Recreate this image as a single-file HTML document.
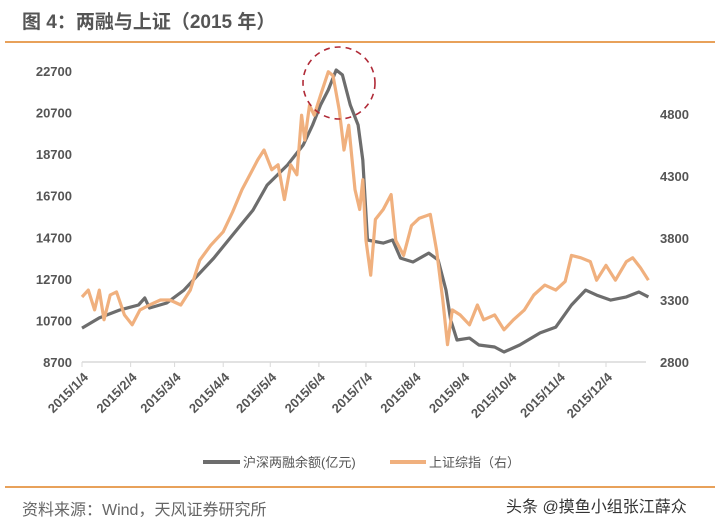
<!DOCTYPE html>
<html><head><meta charset="utf-8"><style>
body{margin:0;background:#fff;font-family:"Liberation Sans","Noto Sans CJK SC",sans-serif;}
#wrap{position:relative;width:720px;height:530px;overflow:hidden;}
</style></head><body>
<div id="wrap">
<svg id="svg" width="720" height="530" font-family="Liberation Sans, Noto Sans CJK SC, sans-serif">
<text x="22" y="28" font-size="19" font-weight="bold" fill="#555">图 4：两融与上证（2015 年）</text>
<line x1="5" y1="42" x2="715" y2="42" stroke="#e8a15a" stroke-width="2"/>
<line x1="5" y1="487" x2="715" y2="487" stroke="#e8a15a" stroke-width="2"/>
<text x="22" y="515" font-size="16" fill="#666">资料来源：Wind，天风证券研究所</text>
<text x="506" y="512" font-size="16" fill="#333">头条 @摸鱼小组张江薛众</text>
<g id="grid"></g><g id="series"></g>
<circle cx="339" cy="83" r="36" fill="none" stroke="#b02a37" stroke-width="1.6" stroke-dasharray="6,5"/>
<g>
<line x1="203" y1="462" x2="240" y2="462" stroke="#6d6d6d" stroke-width="4"/>
<text x="243" y="467" font-size="13" fill="#555">沪深两融余额(亿元)</text>
<line x1="390" y1="462" x2="426" y2="462" stroke="#f0b07e" stroke-width="4"/>
<text x="429" y="467" font-size="13" fill="#555">上证综指（右）</text>
</g>
</svg></div>
<script>
const marginDates=["01-04","01-15","01-28","02-09","02-13","02-16","02-27","03-10","03-16","03-29","04-10","04-23","05-02","05-15","05-25","05-31","06-05","06-10","06-15","06-19","06-24","06-29","07-02","07-05","07-15","07-21","07-26","08-03","08-13","08-19","08-24","08-27","08-31","09-08","09-14","09-24","09-30","10-10","10-23","11-02","11-12","11-21","11-28","12-07","12-17","12-25","12-31"];
const marginValues=[10330,10820,11200,11440,11780,11300,11540,12160,12650,13700,14810,16010,17210,18180,19140,20100,21060,21790,22750,22510,21060,20100,18420,14570,14420,14570,13700,13510,13940,13610,12160,10720,9760,9850,9520,9420,9180,9520,10100,10380,11440,12160,11920,11680,11830,12070,11830];
const indexDates=["01-04","01-08","01-12","01-15","01-18","01-22","01-26","01-31","02-05","02-10","02-16","02-23","03-01","03-08","03-14","03-20","03-27","04-04","04-10","04-16","04-21","04-26","04-30","05-05","05-09","05-13","05-17","05-21","05-24","05-26","05-29","06-01","06-05","06-10","06-13","06-17","06-20","06-23","06-27","06-30","07-02","07-04","07-07","07-10","07-15","07-20","07-23","07-28","08-02","08-07","08-14","08-18","08-22","08-25","08-28","09-02","09-08","09-13","09-17","09-24","09-30","10-06","10-13","10-19","10-26","11-02","11-08","11-12","11-18","11-24","11-28","12-04","12-10","12-17","12-21","12-26","12-31"];
const indexValues=[3324,3380,3220,3380,3140,3340,3365,3180,3100,3220,3260,3300,3300,3260,3380,3620,3740,3850,4010,4190,4310,4430,4510,4350,4390,4110,4390,4310,4790,4590,4870,4790,4950,5140,5110,4830,4510,4710,4190,4030,4270,3780,3500,3950,4030,4150,3780,3660,3900,3960,3990,3700,3300,2940,3220,3180,3100,3260,3140,3180,3060,3140,3220,3340,3420,3380,3450,3660,3640,3610,3460,3580,3460,3610,3640,3560,3460];
const leftTicks=[8700,10700,12700,14700,16700,18700,20700,22700];
const rightTicks=[2800,3300,3800,4300,4800];
const xTickLabels=["2015/1/4","2015/2/4","2015/3/4","2015/4/4","2015/5/4","2015/6/4","2015/7/4","2015/8/4","2015/9/4","2015/10/4","2015/11/4","2015/12/4"];
const NS="http://www.w3.org/2000/svg";
function doy(md){const[m,d]=md.split("-").map(Number);return (Date.UTC(2015,m-1,d)-Date.UTC(2015,0,1))/864e5;}
const X0=82,X1=606,D0=3,D1=337;
function xs(d){return X0+(d-D0)*(X1-X0)/(D1-D0);}
function yl(v){return 362-(v-8700)*(291/14000);}
function yr(v){return 362-(v-2800)*(248/2000);}
function mk(t,a,p){const e=document.createElementNS(NS,t);for(const k in a)e.setAttribute(k,a[k]);p.appendChild(e);return e;}
const g=document.getElementById("grid"),s=document.getElementById("series");
const ax=mk("line",{x1:82,y1:362,x2:646,y2:362,stroke:"#d9d9d9","stroke-width":1.5},g);


leftTicks.forEach(v=>{const t=mk("text",{x:72,y:yl(v)+5,"font-size":13,"font-weight":"bold",fill:"#555","text-anchor":"end"},g);t.textContent=v;

});
rightTicks.forEach(v=>{const t=mk("text",{x:660,y:yr(v)+5,"font-size":13,"font-weight":"bold",fill:"#555"},g);t.textContent=v;

});
xTickLabels.forEach((l,i)=>{const p=l.split("/");const x=xs(doy(p[1]+"-"+p[2]));
const tk=mk("line",{x1:x,y1:362,x2:x,y2:367,stroke:"#d9d9d9"},g);


const t=mk("text",{x:x+7,y:378,"font-size":13,"font-weight":"bold",fill:"#555","text-anchor":"end",transform:`rotate(-45 ${x+7} 378)`},g);t.textContent=l;

});
function path(dates,vals,f){return dates.map((d,i)=>(i?"L":"M")+xs(doy(d)).toFixed(1)+","+f(vals[i]).toFixed(1)).join("");}
const pi=mk("path",{d:path(indexDates,indexValues,yr),fill:"none",stroke:"#f0b07e","stroke-width":3.2,"stroke-linejoin":"round"},s);


const pm=mk("path",{d:path(marginDates,marginValues,yl),fill:"none",stroke:"#6d6d6d","stroke-width":3.2,"stroke-linejoin":"round"},s);


s.appendChild(pi);
</script>
</body></html>
